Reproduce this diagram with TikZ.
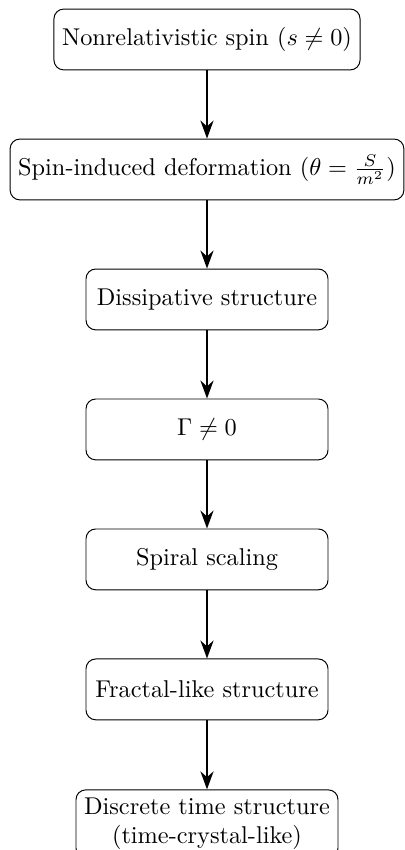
\documentclass[tikz,border=0pt]{standalone}
\usepackage{amsmath}
\usetikzlibrary{arrows.meta}
\tikzstyle{stagebox} = [draw=black, rounded corners=4pt, minimum width=3.5cm, minimum height=0.88cm, align=center]
\tikzstyle{flowarrow} = [-{Stealth[length=2.6mm,width=1.9mm]}, thick]

\begin{document}
\begin{tikzpicture}

\useasboundingbox (-2.994,0.571) rectangle (2.863,-11.723);

\node[stagebox] (s1) at (0,0) {Nonrelativistic spin ($s \neq 0$)};
\node[stagebox] (s2) at (0,-1.88) {Spin-induced deformation ($\theta = \frac{S}{m^2}$)};
\node[stagebox] (s3) at (0,-3.76) {Dissipative structure};
\node[stagebox] (s4) at (0,-5.64) {$\Gamma \neq 0$};
\node[stagebox] (s5) at (0,-7.52) {Spiral scaling};
\node[stagebox] (s6) at (0,-9.40) {Fractal-like structure};
\node[stagebox] (s7) at (0,-11.345) {Discrete time structure\\(time-crystal-like)};

\draw[flowarrow] (s1) -- (s2);
\draw[flowarrow] (s2) -- (s3);
\draw[flowarrow] (s3) -- (s4);
\draw[flowarrow] (s4) -- (s5);
\draw[flowarrow] (s5) -- (s6);
\draw[flowarrow] (s6) -- (s7);
\end{tikzpicture}
\end{document}
